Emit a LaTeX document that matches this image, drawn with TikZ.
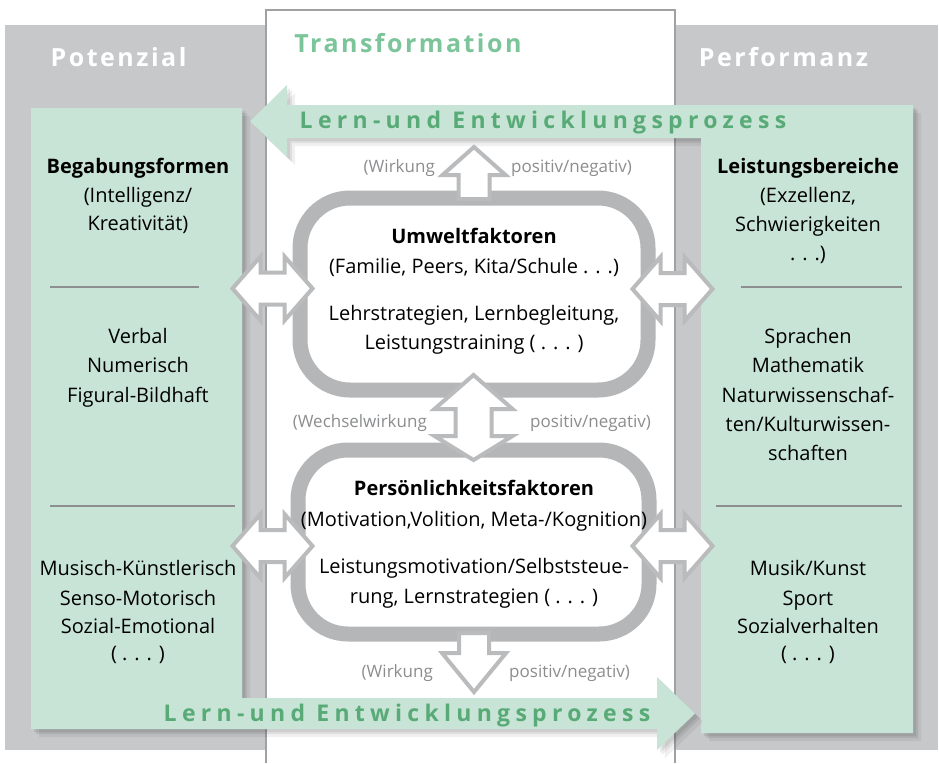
\documentclass[tikz,border=0pt]{standalone}
\usepackage{fontspec}
\setmainfont{Open Sans}
\newfontfamily\titlefont[LetterSpace=10]{Open Sans}
\newfontfamily\procfont[LetterSpace=23]{Open Sans}
\definecolor{bggray}{RGB}{199,200,202}
\definecolor{boxgreen}{RGB}{200,228,214}
\definecolor{ringgray}{RGB}{181,182,184}
\definecolor{arrowgray}{RGB}{186,187,189}
\definecolor{procgreen}{RGB}{88,170,118}
\definecolor{titlegreen}{RGB}{124,196,154}
\definecolor{labelgray}{RGB}{140,141,143}
\definecolor{panelline}{RGB}{160,161,163}
\definecolor{sepline}{RGB}{140,142,144}
\tikzset{
  shad/.style={
    preaction={fill=black,opacity=0.06,transform canvas={shift={(8,8)}}},
    preaction={fill=black,opacity=0.07,transform canvas={shift={(5,5)}}},
    preaction={fill=black,opacity=0.08,transform canvas={shift={(3,3)}}}},
  ring/.style={draw=ringgray, line width=15pt, fill=white, rounded corners=50pt, inner sep=0pt},
  barrow/.style={draw=arrowgray, line width=4pt, fill=white, line join=miter},
  txt/.style={font=\fontsize{20}{24}\selectfont, anchor=base, inner sep=0pt},
  btxt/.style={font=\fontsize{20}{24}\selectfont\bfseries, anchor=base, inner sep=0pt},
  lbl/.style={font=\fontsize{17}{20}\selectfont, text=labelgray, inner sep=0pt},
  ttl/.style={font=\fontsize{25}{30}\selectfont\titlefont\bfseries, anchor=base, inner sep=0pt},
  proc/.style={font=\fontsize{23}{27}\selectfont\procfont\bfseries, text=procgreen, anchor=base, inner sep=0pt},
  sep/.style={draw=sepline, line width=1.5pt}
}
\begin{document}
\begin{tikzpicture}[x=1pt,y=-1pt]
\useasboundingbox (0,0) rectangle (939,763);
% gray background
\fill[bggray] (5,25) rectangle (938,750);
% white central panel
\fill[white] (266,10) rectangle (675,763);
\draw[panelline, line width=1.5pt] (266,763) -- (266,10) -- (675,10) -- (675,763);
% right box with top arrow
\fill[boxgreen, shad] (913,105) -- (913,733) -- (701,733) -- (701,138) -- (287,138) -- (287,157)
  -- (250,121.5) -- (287,85) -- (287,105) -- cycle;
% left box with bottom arrow
\fill[boxgreen, shad] (31,108) -- (242,108) -- (242,698) -- (657,698) -- (657,677) -- (695,713.5)
  -- (657,750) -- (657,729) -- (31,729) -- cycle;
% titles
\node[ttl, text=white] (potenzial) at (118.5,66) {Potenzial};
\node[ttl, text=titlegreen] (transformation) at (408,52) {Transformation};
\node[ttl, text=white] (performanz) at (783.5,66) {Performanz};
% process labels
\node[proc] (proctop) at (543,128) {Lern-und Entwicklungsprozess};
\node[proc] (procbot) at (407,721) {Lern-und Entwicklungsprozess};
% rounded rectangles
\node[ring, minimum width=348pt, minimum height=192pt] (umwelt) at (474,294) {};
\node[ring, minimum width=351pt, minimum height=184pt] (person) at (473.5,542) {};
% up arrow
\draw[barrow, shift={(474,0)}] (-15.5,199) -- (-15.5,175) -- (-31.5,175) -- (0,147) -- (31.5,175)
  -- (15.5,175) -- (15.5,199) -- cycle;
% down arrow
\draw[barrow, shift={(474,0)}] (-15,633) -- (15,633) -- (15,653) -- (32,653) -- (0,692) -- (-32,653)
  -- (-15,653) -- cycle;
% vertical double arrow
\draw[barrow, shift={(473.5,0)}] (0,375) -- (39,409) -- (18,409) -- (18,436) -- (39,436) -- (0,460)
  -- (-39,436) -- (-18,436) -- (-18,409) -- (-39,409) -- cycle;
% horizontal double arrows
\foreach \cx/\cy in {272.5/288.5, 672.5/289, 272.5/546, 672.5/546}{
  \draw[barrow, shift={(\cx,\cy)}] (-40,0) -- (-12,-32) -- (-12,-16) -- (12,-16) -- (12,-32) -- (40,0)
    -- (12,32) -- (12,16) -- (-12,16) -- (-12,32) -- cycle;
}
% center texts
\node[btxt] (u1) at (474,243) {Umweltfaktoren};
\node[txt] (u2) at (474,273) {(Familie, Peers, Kita/Schule . . .)};
\node[txt] (u3) at (474,320) {Lehrstrategien, Lernbegleitung,};
\node[txt] (u4) at (474,349) {Leistungstraining ( . . . )};
\node[btxt] (p1) at (474,495) {Persönlichkeitsfaktoren};
\node[txt] (p2) at (474,526) {(Motivation,Volition, Meta-/Kognition)};
\node[txt] (p3) at (474,573) {Leistungsmotivation/Selbststeue-};
\node[txt] (p4) at (474,603) {rung, Lernstrategien ( . . . )};
% gray labels
\node[lbl, anchor=base east] (w1) at (435,172) {(Wirkung};
\node[lbl, anchor=base west] (w2) at (511,172) {positiv/negativ)};
\node[lbl, anchor=base east] (w3) at (427,427) {(Wechselwirkung};
\node[lbl, anchor=base west] (w4) at (530,427) {positiv/negativ)};
\node[lbl, anchor=base east] (w5) at (433,677) {(Wirkung};
\node[lbl, anchor=base west] (w6) at (509,677) {positiv/negativ)};
% left box texts
\node[btxt] (l1) at (138,173) {Begabungsformen};
\node[txt] (l2) at (138,202) {(Intelligenz/};
\node[txt] (l3) at (138,230) {Kreativität)};
\draw[sep] (50,287) -- (199,287);
\node[txt] (l4) at (138,343) {Verbal};
\node[txt] (l5) at (138,372) {Numerisch};
\node[txt] (l6) at (138,402) {Figural-Bildhaft};
\draw[sep] (50,506) -- (235,506);
\node[txt] (l7) at (138,575) {Musisch-Künstlerisch};
\node[txt] (l8) at (138,605) {Senso-Motorisch};
\node[txt] (l9) at (138,633) {Sozial-Emotional};
\node[txt] (l10) at (138,660) {( . . . )};
% right box texts
\node[btxt] (r1) at (808,173) {Leistungsbereiche};
\node[txt] (r2) at (808,202) {(Exzellenz,};
\node[txt] (r3) at (808,231) {Schwierigkeiten};
\node[txt] (r4) at (808,260) {. . .)};
\draw[sep] (741,287) -- (902,287);
\node[txt] (r5) at (808,343) {Sprachen};
\node[txt] (r6) at (808,372) {Mathematik};
\node[txt] (r7) at (808,402) {Naturwissenschaf-};
\node[txt] (r8) at (808,431) {ten/Kulturwissen-};
\node[txt] (r9) at (808,460) {schaften};
\draw[sep] (716,506) -- (902,506);
\node[txt] (r10) at (808,575) {Musik/Kunst};
\node[txt] (r11) at (808,605) {Sport};
\node[txt] (r12) at (808,633) {Sozialverhalten};
\node[txt] (r13) at (808,660) {( . . . )};
\end{tikzpicture}
\end{document}
